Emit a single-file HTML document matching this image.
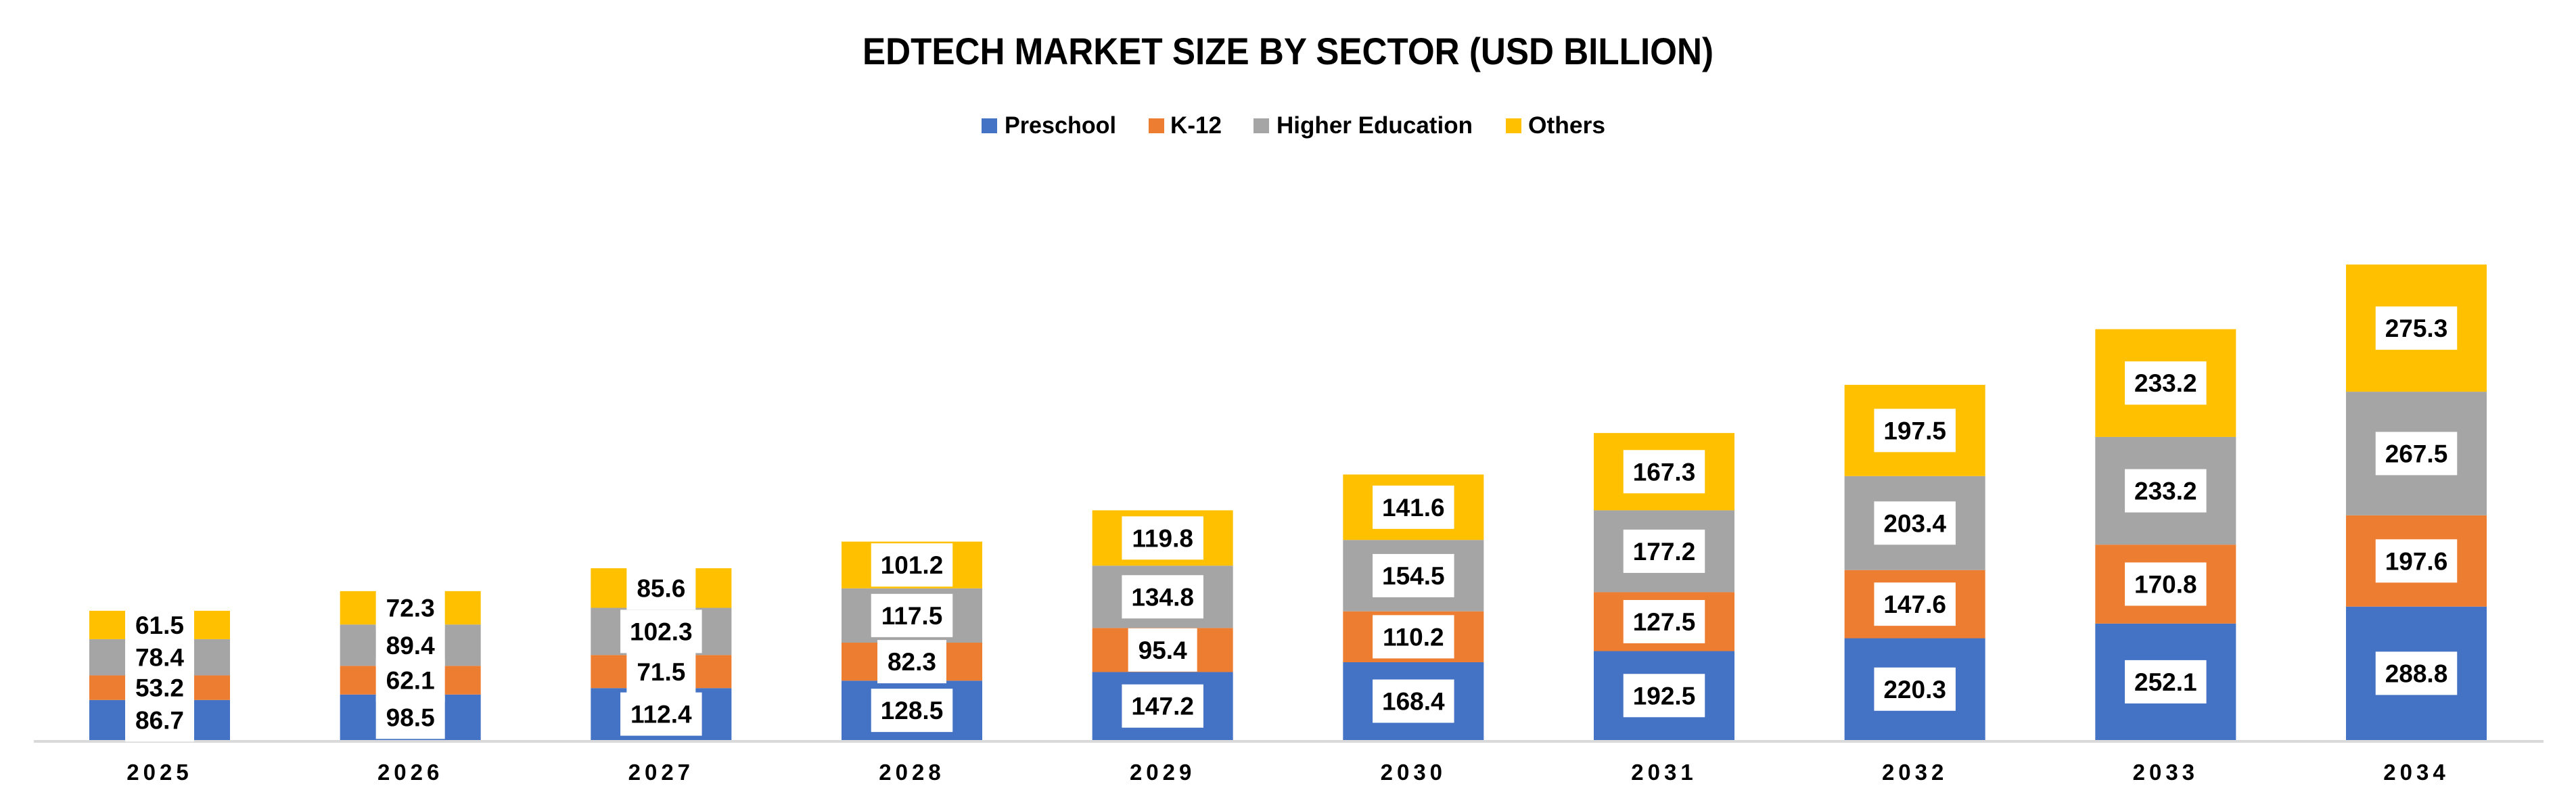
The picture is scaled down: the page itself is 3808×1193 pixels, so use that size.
<!DOCTYPE html>
<html><head><meta charset="utf-8"><title>EdTech Market Size by Sector</title>
<style>html,body{margin:0;padding:0;background:#fff;}svg{display:block;font-family:"Liberation Sans",Arial,sans-serif;font-weight:bold;}</style>
</head><body>
<svg id="chart" width="3808" height="1193" viewBox="0 0 3808 1193" xmlns="http://www.w3.org/2000/svg">
<text x="1275" y="95" font-size="56" textLength="1258" lengthAdjust="spacingAndGlyphs">EDTECH MARKET SIZE BY SECTOR (USD BILLION)</text>
<g>
<g><rect x="1451" y="175" width="23" height="22" fill="#4472C4"/><text x="1485" y="197" font-size="35" textLength="165" lengthAdjust="spacingAndGlyphs">Preschool</text></g>
<g><rect x="1698" y="175" width="23" height="22" fill="#ED7D31"/><text x="1730" y="197" font-size="35" textLength="76" lengthAdjust="spacingAndGlyphs">K-12</text></g>
<g><rect x="1853" y="175" width="23" height="22" fill="#A5A5A5"/><text x="1887" y="197" font-size="35" textLength="290" lengthAdjust="spacingAndGlyphs">Higher Education</text></g>
<g><rect x="2226" y="175" width="23" height="22" fill="#FFC000"/><text x="2259" y="197" font-size="35" textLength="114" lengthAdjust="spacingAndGlyphs">Others</text></g>
</g>
<g id="plot"></g>
</svg>
<script>
const categories = ["2025","2026","2027","2028","2029","2030","2031","2032","2033","2034"];
const preschool = [86.7,98.5,112.4,128.5,147.2,168.4,192.5,220.3,252.1,288.8];
const k12 = [53.2,62.1,71.5,82.3,95.4,110.2,127.5,147.6,170.8,197.6];
const higherEducation = [78.4,89.4,102.3,117.5,134.8,154.5,177.2,203.4,233.2,267.5];
const others = [61.5,72.3,85.6,101.2,119.8,141.6,167.3,197.5,233.2,275.3];
const seriesNames = ["preschool","k12","higher-education","others"];

const NS = "http://www.w3.org/2000/svg";
const plot = document.getElementById("plot");
const baseY = 1094, pxPerUnit = 0.683;
const firstX = 236, step = (3572 - 236) / 9, barW = 208;
const colors = ["#4472C4","#ED7D31","#A5A5A5","#FFC000"];
function xScale(i){ return firstX + i * step; }
function yScale(v){ return baseY - v * pxPerUnit; }
function mk(tag, attrs){ const e = document.createElementNS(NS, tag); for (const k in attrs) e.setAttribute(k, attrs[k]); return e; }

const allSeries = [preschool, k12, higherEducation, others];
const labelsLayer = mk("g", {});
categories.forEach((cat, i) => {
  let cum = 0;
  allSeries.forEach((arr, s) => {
    const v = arr[i];
    const y0 = yScale(cum), y1 = yScale(cum + v);
    const r = mk("rect", {x: xScale(i) - barW/2, y: y1, width: barW, height: y0 - y1, fill: colors[s]});
    
    
    plot.appendChild(r);
    const cy = (y0 + y1) / 2;
    const txt = v.toFixed(1);
    const tw = txt.length * 18.5;
    const bw = tw + 28;
    const b = mk("rect", {x: xScale(i) - bw/2, y: cy - 32, width: bw, height: 64, fill: "#fff"});
    
    
    labelsLayer.appendChild(b);
    const t = mk("text", {x: xScale(i), y: cy + 13, "font-size": 37, "text-anchor": "middle", fill: "#000"});
    t.textContent = txt;
    
    
    labelsLayer.appendChild(t);
    cum += v;
  });
  const xl = mk("text", {x: xScale(i), y: 1153, "font-size": 33, "text-anchor": "middle", "letter-spacing": "6", fill: "#000"});
  xl.textContent = cat;
  
  
  plot.appendChild(xl);
});
const axis = mk("line", {x1: 50, x2: 3760, y1: 1096, y2: 1096, stroke: "#D9D9D9", "stroke-width": 4});


plot.appendChild(axis);
plot.appendChild(labelsLayer);
</script>
</body></html>
